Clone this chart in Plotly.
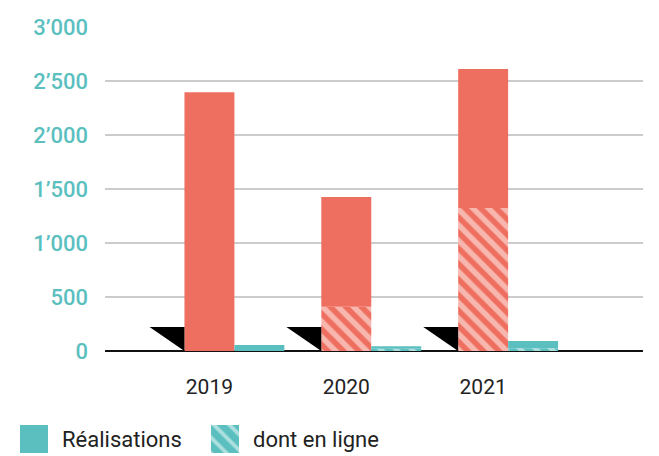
import plotly.graph_objects as go

years = ["2019", "2020", "2021"]
total_salmon = [2395, 1425, 2610]
online_salmon = [0, 410, 1325]
total_teal = [55, 45, 92]
online_teal = [0, 20, 25]
triangle_h = [222, 222, 222]
ytick_vals = [0, 500, 1000, 1500, 2000, 2500, 3000]
ytick_text = ["0", "500", "1’000", "1’500", "2’000", "2’500", "3’000"]
legend_labels = ["Réalisations", "dont en ligne"]

SALMON = "#EE6F5F"
TEAL = "#5BBFBF"
BW = 0.365
TW = 0.255
W, H = 659, 456
TOP = 27
PLOT_L, PLOT_R, PLOT_B = 105, 643, 351
PH = H - TOP  # paper height

def hatch(color, sol):
    return dict(shape="\\", fgcolor="white", bgcolor=color,
                size=11, solidity=sol, fillmode="overlay")

pos = list(range(len(years)))

fig = go.Figure()

fig.add_trace(go.Bar(
    x=pos, y=online_salmon, width=BW, offset=-BW / 2,
    marker=dict(color=SALMON, line=dict(width=0), pattern=hatch(SALMON, 0.5)),
    hoverinfo="skip"))
fig.add_trace(go.Bar(
    x=pos, y=[t - o for t, o in zip(total_salmon, online_salmon)],
    base=online_salmon, width=BW, offset=-BW / 2,
    marker=dict(color=SALMON, line=dict(width=0)), hoverinfo="skip"))

fig.add_trace(go.Bar(
    x=pos, y=online_teal, width=BW, offset=BW / 2,
    marker=dict(color=TEAL, line=dict(width=0), pattern=hatch(TEAL, 0.45)),
    hoverinfo="skip"))
fig.add_trace(go.Bar(
    x=pos, y=[t - o for t, o in zip(total_teal, online_teal)],
    base=online_teal, width=BW, offset=BW / 2,
    marker=dict(color=TEAL, line=dict(width=0)), hoverinfo="skip"))

tx, ty = [], []
for p, h in zip(pos, triangle_h):
    right = p - BW / 2
    left = right - TW
    tx += [left, right, right, left, None]
    ty += [h, h, 0, h, None]
fig.add_trace(go.Scatter(
    x=tx, y=ty, mode="lines", fill="toself", fillcolor="black",
    line=dict(color="black", width=0), hoverinfo="skip"))

# custom legend (pixel-unit helper axes below the plot)
sw_x = [34, 225]
sw_pat = [dict(shape=""), hatch(TEAL, 0.35)]
for xx, pat in zip(sw_x, sw_pat):
    fig.add_trace(go.Bar(
        x=[xx], y=[28], base=[3], width=28, xaxis="x2", yaxis="y2",
        marker=dict(color=TEAL, line=dict(width=0), pattern=pat),
        hoverinfo="skip"))
for xx, lab in zip(sw_x, legend_labels):
    fig.add_annotation(x=xx + 26, y=17, xref="x2", yref="y2", text=lab,
                       showarrow=False, xanchor="left", yanchor="middle",
                       font=dict(size=22, color="#222222"))

fig.update_layout(
    width=W, height=H,
    margin=dict(l=0, r=0, t=TOP, b=0, autoexpand=False),
    barmode="overlay",
    plot_bgcolor="white", paper_bgcolor="white",
    font=dict(family="Roboto", size=20, color="#222222"),
    showlegend=False,
    xaxis=dict(
        domain=[PLOT_L / W, PLOT_R / W],
        range=[-0.763, 3.168], tickvals=pos, ticktext=years,
        showgrid=False, zeroline=False, showline=False, ticks="",
        ticklabelstandoff=21, automargin=False,
        tickfont=dict(size=21, color="#222222"),
    ),
    yaxis=dict(
        domain=[(H - PLOT_B) / PH, 1],
        range=[0, 3000], tickvals=ytick_vals, ticktext=ytick_text,
        showgrid=True, gridcolor="#cccccc", gridwidth=1.5,
        zeroline=True, zerolinecolor="#111111", zerolinewidth=2,
        showline=False, ticks="", ticklabelstandoff=16, automargin=False,
        tickfont=dict(size=22, color=TEAL, weight=500),
    ),
    xaxis2=dict(domain=[0, 1], range=[0, W], visible=False, anchor="y2",
                fixedrange=True),
    yaxis2=dict(domain=[0, (H - PLOT_B) / PH], range=[0, H - PLOT_B],
                visible=False, anchor="x2", fixedrange=True),
)

fig.write_html(
    "out.html",
    config={"displayModeBar": False},
    post_script="document.body.style.margin='0';document.body.style.overflow='hidden';",
)
